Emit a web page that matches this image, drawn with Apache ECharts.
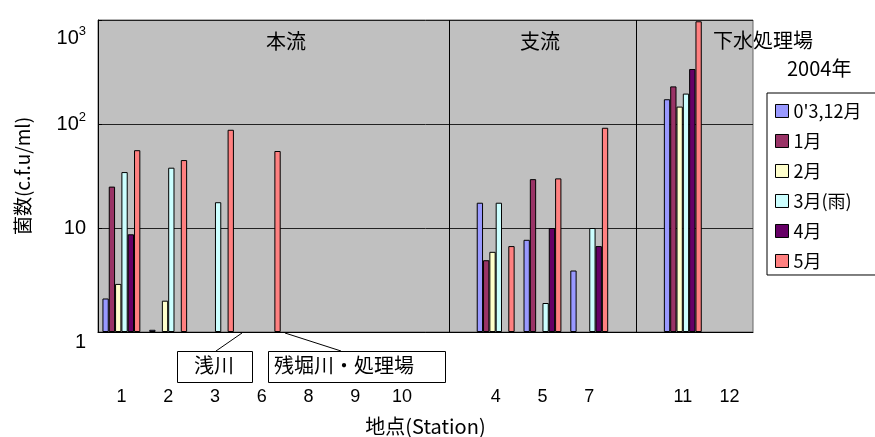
<!DOCTYPE html>
<html>
<head>
<meta charset="utf-8">
<script src="https://cdn.jsdelivr.net/npm/echarts@6/dist/echarts.min.js"></script>
<style>
html,body{margin:0;padding:0;background:#fff;}
#main{width:875px;height:437px;}
</style>
</head>
<body>
<div id="main"></div>
<script>
// 地点 (空欄は区切り用)
var stations = ['1','2','3','6','8','9','10','','4','5','7','','11','12'];
var monthNames = ["0'3,12月",'1月','2月','3月(雨)','4月','5月'];
var colors = ['#9999ff','#993366','#ffffcc','#ccffff','#660066','#ff8080'];

// 菌数 (c.f.u/ml)
var m0312 = [2.1, 1.05, null, null, null, null, null, null, 17.5, 7.7, 3.9, null, 173, null];
var m01   = [25, null, null, null, null, null, null, null, 4.9, 29.5, null, null, 230, null];
var m02   = [2.9, 2.0, null, null, null, null, null, null, 5.9, null, null, null, 147, null];
var m03   = [34.5, 38, 17.7, null, null, null, null, null, 17.5, 1.9, 10, null, 196, null];
var m04   = [8.7, null, null, null, null, null, null, null, null, 10, 6.7, null, 338, null];
var m05   = [56, 45, 88, 55, null, null, null, null, 6.7, 30, 92, null, 972, null];
var allData = [m0312, m01, m02, m03, m04, m05];

var jp = '"Noto Sans CJK JP", sans-serif';
var num = '"Liberation Sans", Arial, sans-serif';

var myChart = echarts.init(document.getElementById('main'));

var series = [];
for (var i = 0; i < allData.length; i++) {
	series.push({
		name: monthNames[i],
		type: 'bar',
		data: allData[i],
		barGap: '0%',
		barCategoryGap: '19%',
		itemStyle: {color: colors[i], borderColor: '#000', borderWidth: 1}
	});
}
// 区切り線 (本流/支流/下水処理場)
series.push({
	name: 'sep',
	type: 'line',
	data: [],
	markLine: {
		silent: true,
		symbol: 'none',
		label: {show: false},
		lineStyle: {color: '#000', width: 1, type: 'solid'},
		data: [{xAxis: 7}, {xAxis: 11}]
	}
});

var option = {
	animation: false,
	grid: {
		left: 98, right: 122, top: 20, bottom: 105,
		outerBoundsMode: 'none',
		containLabel: false,
		show: true, backgroundColor: '#c0c0c0', borderColor: '#666', borderWidth: 1
	},
	legend: {
		orient: 'vertical',
		left: 767, top: 93,
		icon: 'rect',
		itemWidth: 13, itemHeight: 13, itemGap: 12,
		padding: [9, 40, 5, 8],
		backgroundColor: '#fff',
		borderColor: '#000', borderWidth: 1,
		itemStyle: {borderColor: '#000', borderWidth: 1},
		textStyle: {fontFamily: jp, fontSize: 18, color: '#000'},
		data: monthNames
	},
	xAxis: {
		type: 'category',
		data: stations,
		name: '地点(Station)',
		nameLocation: 'middle',
		nameGap: 84,
		nameTextStyle: {fontFamily: jp, fontSize: 20, color: '#000'},
		axisLine: {lineStyle: {color: '#000'}},
		axisTick: {inside: true, length: 5, lineStyle: {color: '#555'}},
		axisLabel: {margin: 56, fontFamily: num, fontSize: 18, color: '#000', interval: 0}
	},
	yAxis: {
		type: 'log',
		logBase: 10,
		min: 1, max: 1000,
		name: '菌数(c.f.u/ml)',
		nameLocation: 'middle',
		nameRotate: 90,
		nameGap: 66,
		nameTextStyle: {fontFamily: jp, fontSize: 19, color: '#000'},
		axisLine: {show: true, lineStyle: {color: '#000'}},
		axisTick: {show: true, inside: true, length: 4, lineStyle: {color: '#000'}},
		splitLine: {lineStyle: {color: '#222', width: 1}},
		axisLabel: {
			margin: 12,
			color: '#000',
			fontFamily: num,
			fontSize: 20,
			formatter: function(v){
				if (v == 1) return '{lo|1}';
				if (v == 10) return '10';
				if (v == 100) return '10{sup|2}';
				if (v == 1000) return '{lo2|10}{sup2|3}';
				return '';
			},
			rich: {
				lo: {fontFamily: num, fontSize: 20, padding: [20, 0, 0, 0]},
				lo2: {fontFamily: num, fontSize: 20, padding: [36, 0, 0, 0]},
				sup: {fontFamily: num, fontSize: 13, padding: [0, 0, 14, 0]},
				sup2: {fontFamily: num, fontSize: 13, padding: [22, 0, 0, 0]}
			}
		}
	},
	graphic: [
		{type: 'text', left: 266, top: 31, style: {text: '本流', font: '20px ' + jp, fill: '#000'}},
		{type: 'text', left: 520, top: 31, style: {text: '支流', font: '20px ' + jp, fill: '#000'}},
		{type: 'text', left: 713, top: 30, style: {text: '下水処理場', font: '20px ' + jp, fill: '#000'}},
		{type: 'text', left: 787, top: 58, style: {text: '2004年', font: '20px ' + jp, fill: '#000'}},
		// 注記
		{type: 'line', shape: {x1: 216, y1: 351, x2: 242, y2: 333}, style: {stroke: '#000', lineWidth: 1}},
		{type: 'line', shape: {x1: 341, y1: 351, x2: 285, y2: 333}, style: {stroke: '#000', lineWidth: 1}},
		{type: 'rect', shape: {x: 177.5, y: 351.5, width: 75, height: 31}, style: {fill: '#fff', stroke: '#000', lineWidth: 1}},
		{type: 'text', left: 194, top: 355, style: {text: '浅川', font: '20px ' + jp, fill: '#000'}},
		{type: 'rect', shape: {x: 268.5, y: 351.5, width: 177, height: 31}, style: {fill: '#fff', stroke: '#000', lineWidth: 1}},
		{type: 'text', left: 274, top: 355, style: {text: '残堀川・処理場', font: '20px ' + jp, fill: '#000'}}
	],
	series: series
};

myChart.setOption(option);
</script>
</body>
</html>
